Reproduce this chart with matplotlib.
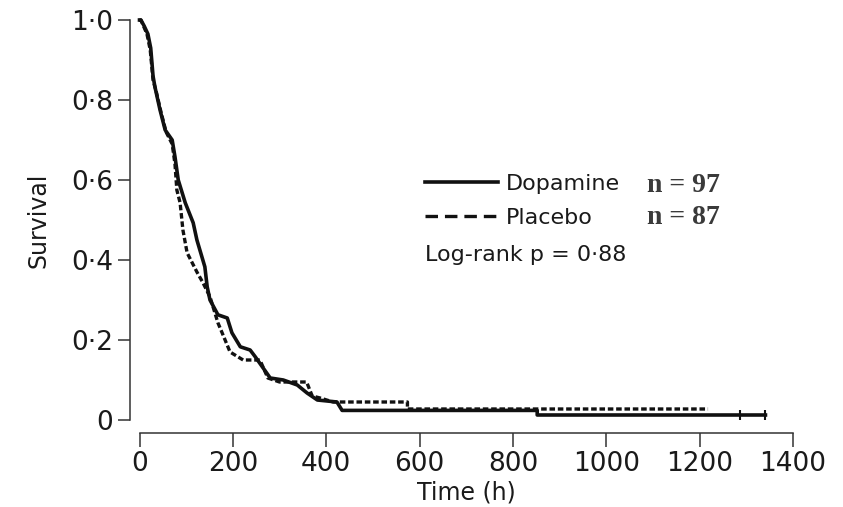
import matplotlib
matplotlib.use("Agg")
import matplotlib.pyplot as plt
from matplotlib.lines import Line2D
from matplotlib.ticker import FixedLocator, FixedFormatter

plt.rcParams["font.family"] = ["DejaVu Sans"]
plt.rcParams["lines.scale_dashes"] = False

# Kaplan-Meier curve vertices (time in hours, survival proportion)
dopamine_time = [0, 3, 10, 18, 24, 29, 33, 44, 55, 70, 76, 83, 98, 115, 123, 140,
                 145, 151, 168, 188, 198, 216, 237, 248, 280, 308, 338, 359, 381,
                 423, 434, 852, 852, 1341]
dopamine_surv = [1.0, 1.0, 0.985, 0.965, 0.93, 0.86, 0.833, 0.775, 0.725, 0.70,
                 0.658, 0.60, 0.543, 0.493, 0.45, 0.383, 0.333, 0.30, 0.263, 0.255,
                 0.218, 0.183, 0.175, 0.158, 0.105, 0.10, 0.0875, 0.0675, 0.05,
                 0.045, 0.024, 0.024, 0.0125, 0.0125]

placebo_time = [0, 3, 16, 23, 29, 35, 46, 57, 70, 76, 80, 87, 93, 102, 123, 136,
                151, 168, 177, 194, 222, 258, 275, 300, 358, 370, 387, 415, 574,
                574, 1218]
placebo_surv = [1.0, 1.0, 0.965, 0.925, 0.85, 0.825, 0.77, 0.72, 0.69, 0.64, 0.575,
                0.543, 0.475, 0.418, 0.37, 0.343, 0.308, 0.243, 0.218, 0.17, 0.15,
                0.15, 0.105, 0.095, 0.095, 0.06, 0.055, 0.045, 0.045, 0.0275,
                0.0275]

# censored observations at the end of the dopamine arm
censor_time = [1287, 1341]
censor_surv = [0.0125, 0.0125]

group_names = ["Dopamine", "Placebo"]
group_sizes = [97, 87]
logrank_text = "Log-rank p = 0\u00b788"

x_ticks = [0, 200, 400, 600, 800, 1000, 1200, 1400]
y_ticks = [0, 0.2, 0.4, 0.6, 0.8, 1.0]
y_tick_labels = ["0", "0\u00b72", "0\u00b74", "0\u00b76", "0\u00b78", "1\u00b70"]

W, H = 843, 507
fig = plt.figure(figsize=(W / 100, H / 100), dpi=100)
ax = fig.add_axes([139.5 / W, (H - 420) / H, (793 - 139.5) / W, 400 / H])

ink = "#111111"
ax.plot(dopamine_time, dopamine_surv, color=ink, lw=2.6, solid_joinstyle="round",
        clip_on=False, zorder=3)
ax.plot(placebo_time, placebo_surv, color=ink, lw=2.4, dashes=(4, 2),
        clip_on=False, zorder=2)
ax.plot(censor_time, censor_surv, ls="none", marker="|", ms=7, mew=1.5,
        color=ink, clip_on=False, zorder=3)

ax.set_xlim(0, 1400)
ax.set_ylim(0, 1)

spine_col = "#333333"
for side in ("top", "right"):
    ax.spines[side].set_visible(False)
ax.spines["left"].set_position(("outward", 7))
ax.spines["bottom"].set_position(("outward", 9))
for side in ("left", "bottom"):
    ax.spines[side].set_color(spine_col)
    ax.spines[side].set_linewidth(1.1)

ax.xaxis.set_major_locator(FixedLocator(x_ticks))
ax.yaxis.set_major_locator(FixedLocator(y_ticks))
ax.yaxis.set_major_formatter(FixedFormatter(y_tick_labels))
ax.tick_params(axis="both", colors=spine_col, labelcolor="#1a1a1a",
               labelsize=19, width=1.1)
ax.tick_params(axis="x", length=10, pad=3)
ax.tick_params(axis="y", length=8.5, pad=3.5)

ax.set_xlabel("Time (h)", fontsize=17, color="#1a1a1a", labelpad=3)
ax.set_ylabel("Survival", fontsize=17, color="#1a1a1a", labelpad=15)

handles = [Line2D([], [], color=ink, lw=2.6),
           Line2D([], [], color=ink, lw=2.4, dashes=(9, 5))]
leg = ax.legend(handles, group_names, loc="upper left", frameon=False,
                bbox_to_anchor=(425 / W, (H - 174) / H),
                bbox_transform=fig.transFigure, fontsize=16,
                handlelength=3.3, handletextpad=0.35, labelspacing=0.62,
                borderpad=0, borderaxespad=0)
for t in leg.get_texts():
    t.set_color("#1a1a1a")

for n, yc in zip(group_sizes, [185, 218]):
    fig.text(647 / W, (H - yc) / H, f"n = {n}", fontsize=20,
             family="Liberation Serif", weight="bold", color="#3a3a3a",
             ha="left", va="center")

fig.text(425 / W, (H - 255) / H, logrank_text, fontsize=16, color="#1a1a1a",
         ha="left", va="center")

fig.savefig("out.png", dpi=100, facecolor="white")
